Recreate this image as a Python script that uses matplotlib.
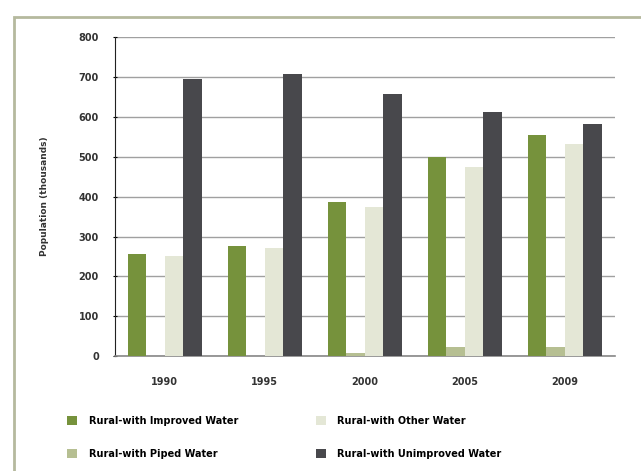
import numpy as np
import matplotlib.pyplot as plt
from matplotlib.patches import Rectangle

years = ['1990', '1995', '2000', '2005', '2009']
improved = [255, 275, 386, 500, 555]
piped = [0, 0, 7, 23, 23]
other = [250, 272, 375, 475, 533]
unimproved = [695, 708, 657, 612, 582]

series = [
    ('Rural-with Improved Water', improved, '#76923c'),
    ('Rural-with Piped Water', piped, '#b6bf92'),
    ('Rural-with Other Water', other, '#e4e7d6'),
    ('Rural-with Unimproved Water', unimproved, '#48484c'),
]

fig = plt.figure(figsize=(6.41, 4.71), dpi=100)
fig.patches.append(Rectangle((14 / 641, -0.01), 1.0, 1 - 17 / 471 + 0.01,
                             transform=fig.transFigure, fill=False,
                             edgecolor='#b5b99e', linewidth=2.0))
ax = fig.add_axes([0.179, 0.244, 0.78, 0.677])

x = np.arange(len(years))
w = 0.185
for i, (name, vals, col) in enumerate(series):
    ax.bar(x + (i - 1.5) * w, vals, w, color=col, label=name, zorder=3)

ax.set_ylim(0, 800)
ax.set_xlim(-0.5, len(years) - 0.5)
ax.set_yticks(range(0, 801, 100))
ax.set_xticks(x)
ax.set_xticklabels(years, fontsize=7, fontweight='bold', color='#333333')
for t in ax.get_yticklabels():
    t.set_fontsize(7)
    t.set_fontweight('bold')
    t.set_color('#333333')
ax.yaxis.grid(True, color='#a0a0a0', linewidth=1.0, zorder=0)
ax.tick_params(axis='x', length=0, pad=15)
ax.tick_params(axis='y', length=3, direction='inout', pad=10)
ax.spines['top'].set_visible(False)
ax.spines['right'].set_visible(False)
ax.spines['left'].set_color('#222222')
ax.spines['bottom'].set_color('#888888')
ax.spines['bottom'].set_linewidth(1.2)
ax.set_ylabel('Population (thousands)', fontsize=6.5, fontweight='bold',
              color='#333333', labelpad=21)

ax.legend(ncol=2, loc='upper left', bbox_to_anchor=(-0.112, -0.16),
          frameon=False, handlelength=1.0, handleheight=1.0,
          columnspacing=8.0, labelspacing=2.4, handletextpad=1.2,
          prop={'size': 7, 'weight': 'bold'})

fig.savefig('out.png', dpi=100)
